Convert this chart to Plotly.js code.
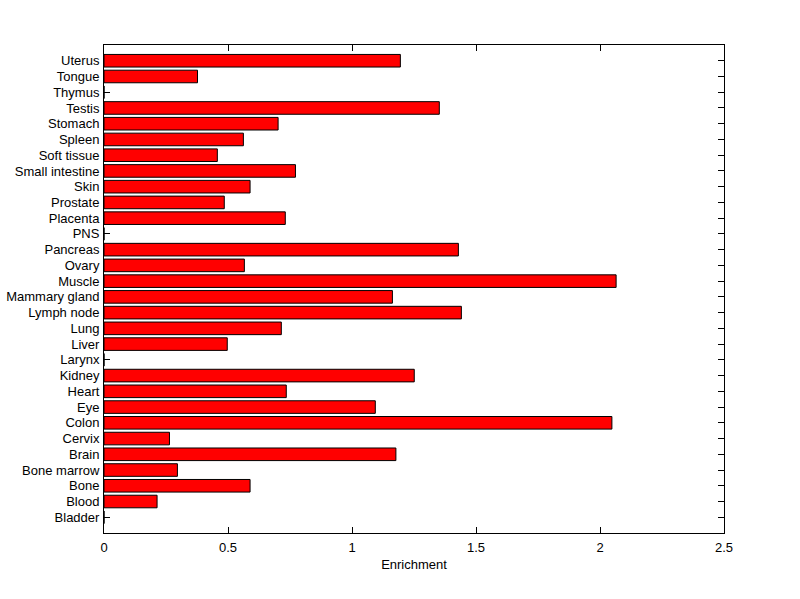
<!DOCTYPE html>
<html>
<head>
<meta charset="utf-8">
<script src="https://cdn.plot.ly/plotly-3.0.1.min.js"></script>
<style>html,body{margin:0;padding:0;background:#fff;}#chart{width:800px;height:599px;}</style>
</head>
<body>
<div id="chart"></div>
<script>
const tissues = ["Bladder","Blood","Bone","Bone marrow","Brain","Cervix","Colon","Eye","Heart","Kidney","Larynx","Liver","Lung","Lymph node","Mammary gland","Muscle","Ovary","Pancreas","PNS","Placenta","Prostate","Skin","Small intestine","Soft tissue","Spleen","Stomach","Testis","Thymus","Tongue","Uterus"];
const enrichment = [0,0.214,0.589,0.296,1.177,0.264,2.048,1.094,0.735,1.251,0,0.497,0.715,1.441,1.163,2.065,0.566,1.429,0,0.731,0.485,0.589,0.772,0.457,0.562,0.702,1.352,0,0.377,1.195];
const xTicks = [0,0.5,1,1.5,2,2.5];
const xTickText = ["0","0.5","1","1.5","2","2.5"];
const yIdx = tissues.map((_, i) => i);

const trace = {
  type: "bar",
  orientation: "h",
  x: enrichment,
  y: yIdx,
  width: 0.8,
  marker: {color: "#ff0000", line: {color: "#000000", width: 1}},
  hoverinfo: "x+y"
};

const font = {family: "Liberation Sans, Arial, sans-serif", size: 13, color: "#000"};

const layout = {
  width: 800, height: 599,
  margin: {l: 104, r: 76, t: 45, b: 66},
  paper_bgcolor: "#fff", plot_bgcolor: "#fff",
  showlegend: false,
  font: font,
  bargap: 0,
  xaxis: {
    range: [0, 2.5],
    tickvals: xTicks, ticktext: xTickText,
    ticks: "inside", ticklen: 6, tickwidth: 1, tickcolor: "#000",
    showline: true, linecolor: "#000", linewidth: 1, mirror: "ticks",
    showgrid: false, zeroline: false,
    layer: "below traces",
    tickfont: font,
    ticklabelstandoff: 2,
    title: {text: "Enrichment", font: font, standoff: 6}
  },
  yaxis: {
    range: [-1, 30],
    tickvals: yIdx, ticktext: tissues,
    ticks: "inside", ticklen: 6, tickwidth: 1, tickcolor: "#000",
    showline: true, linecolor: "#000", linewidth: 1, mirror: "ticks",
    showgrid: false, zeroline: false,
    layer: "below traces",
    tickfont: font,
    ticklabelstandoff: 1
  }
};

Plotly.newPlot("chart", [trace], layout, {displayModeBar: false, staticPlot: true});
</script>
</body>
</html>
